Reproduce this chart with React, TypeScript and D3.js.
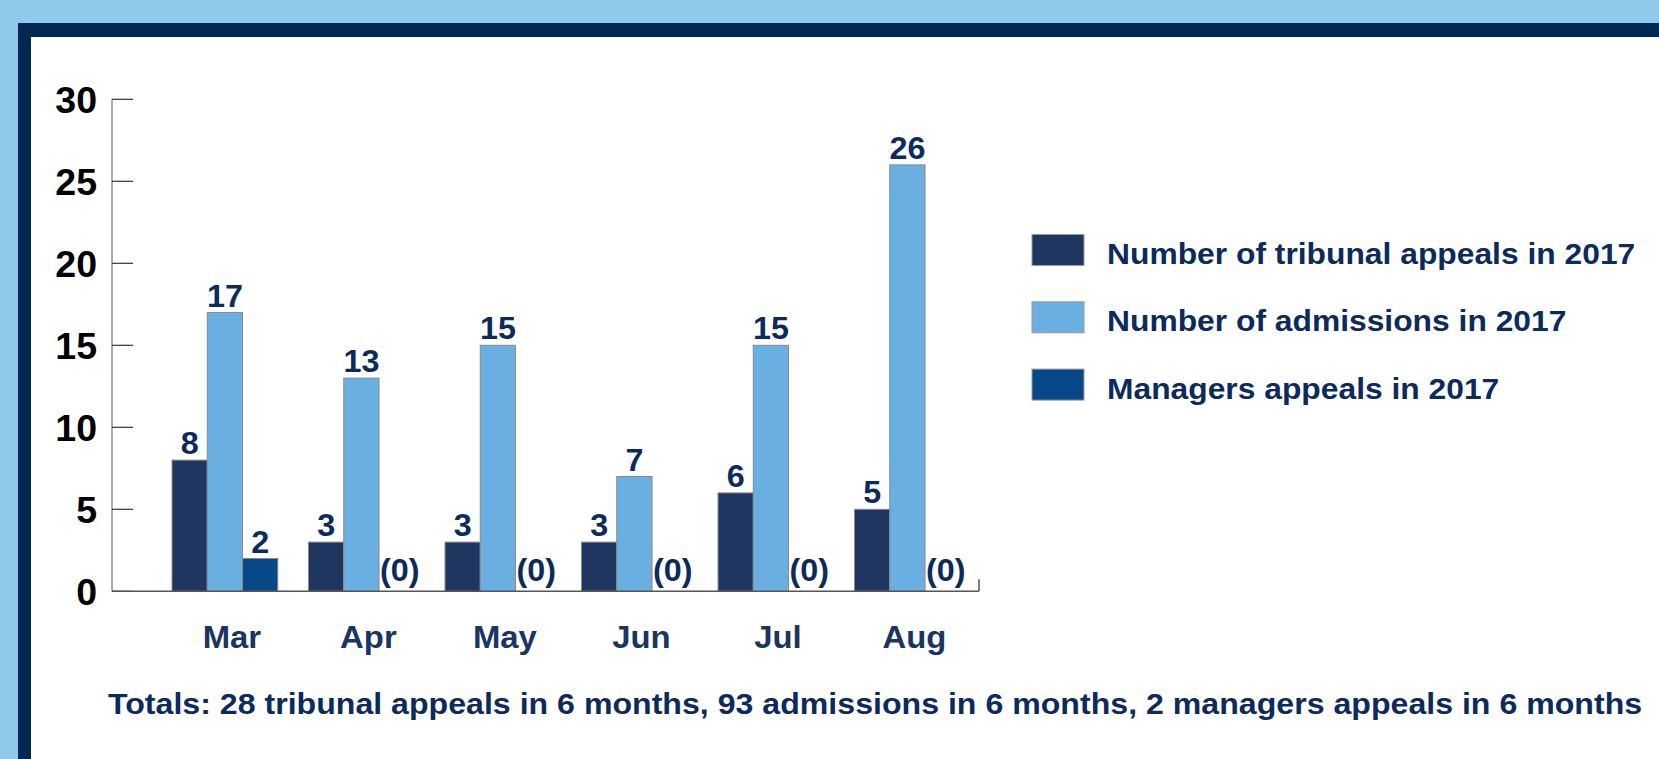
import React from "react";
import * as d3 from "d3";

const months = ["Mar", "Apr", "May", "Jun", "Jul", "Aug"];
const tribunalAppeals = [8, 3, 3, 3, 6, 5];
const admissions = [17, 13, 15, 7, 15, 26];
const managersAppeals = [2, 0, 0, 0, 0, 0];
const seriesNames = [
  "Number of tribunal appeals in 2017",
  "Number of admissions in 2017",
  "Managers appeals in 2017",
];
const seriesColors = ["#1f3760", "#6aafe1", "#074889"];
const yTicks = [0, 5, 10, 15, 20, 25, 30];
const totalsText =
  "Totals: 28 tribunal appeals in 6 months, 93 admissions in 6 months, 2 managers appeals in 6 months";

const W = 1659;
const H = 759;
const FONT = "'Liberation Sans', Arial, Helvetica, sans-serif";
const NAVY = "#0c2b5a";
const SX = 1.06;

function SText({ x, y, size, fill, anchor = "start", children }: any) {
  return (
    <text
      transform={`translate(${x},${y}) scale(${SX},1)`}
      fontFamily={FONT}
      fontWeight="bold"
      fontSize={size}
      fill={fill}
      textAnchor={anchor}
    >
      {children}
    </text>
  );
}

export default function App() {
  const y = d3.scaleLinear().domain([0, 30]).range([591.3, 99.3]);
  const x0 = d3
    .scaleBand<string>()
    .domain(months)
    .range([172, 960.3])
    .paddingInner(0.225)
    .paddingOuter(0);
  const keys = ["t", "a", "m"];
  const x1 = d3.scaleBand<string>().domain(keys).range([0, x0.bandwidth()]).padding(0);
  const data = months.map((m, i) => ({
    m,
    vals: [tribunalAppeals[i], admissions[i], managersAppeals[i]],
  }));
  const axisLeft = 112;
  const axisRight = 979;
  const y0 = y(0);

  return (
    <svg
      width={W}
      height={H}
      style={{ position: "absolute", left: 0, top: 0, display: "block" }}
    >
      {/* frame */}
      <rect x={0} y={0} width={W} height={H} fill="#91c9eb" />
      <rect x={18} y={23} width={W - 18} height={H - 23} fill="#002855" />
      <rect x={31} y={37} width={W - 31} height={H - 37} fill="#ffffff" />

      {/* y axis */}
      <line x1={axisLeft} x2={axisLeft} y1={y(30)} y2={y0} stroke="#8c8c8c" strokeWidth={1.5} />
      {yTicks.map((t) => (
        <g key={t}>
          <line x1={axisLeft} x2={axisLeft + 21} y1={y(t)} y2={y(t)} stroke="#333" strokeWidth={1.2} />
          <text
            x={97}
            y={y(t)}
            dy="0.36em"
            textAnchor="end"
            fontFamily={FONT}
            fontWeight="bold"
            fontSize={37.5}
            fill="#000"
          >
            {t}
          </text>
        </g>
      ))}

      {/* bars */}
      {data.map((d) => (
        <g key={d.m} transform={`translate(${x0(d.m)},0)`}>
          {d.vals.map((v, j) => {
            const bx = x1(keys[j]) as number;
            const bw = x1.bandwidth();
            const top = y(v);
            return (
              <g key={j}>
                {v > 0 && (
                  <rect
                    x={bx}
                    y={top}
                    width={bw}
                    height={y0 - top}
                    fill={seriesColors[j]}
                    stroke="#8a8a8a"
                    strokeWidth={1}
                  />
                )}
                <SText
                  x={bx + bw / 2 + (v > 0 ? 0 : 3)}
                  y={v > 0 ? top - 6 : y0 - 10}
                  size={30.5}
                  fill={NAVY}
                  anchor="middle"
                >
                  {v > 0 ? String(v) : "(0)"}
                </SText>
              </g>
            );
          })}
        </g>
      ))}

      {/* x axis */}
      <line x1={axisLeft} x2={axisRight} y1={y0} y2={y0} stroke="#555" strokeWidth={1.5} />
      <line x1={axisRight} x2={axisRight} y1={y0 - 12} y2={y0} stroke="#555" strokeWidth={1.5} />
      {months.map((m) => (
        <SText
          key={m}
          x={(x0(m) as number) + x0.bandwidth() / 2 + 7}
          y={648}
          size={31}
          fill="#1c3461"
          anchor="middle"
        >
          {m}
        </SText>
      ))}

      {/* legend */}
      {seriesNames.map((name, i) => (
        <g key={name}>
          <rect
            x={1032}
            y={234.5 + i * 67.3}
            width={52}
            height={31}
            fill={seriesColors[i]}
            stroke="#9a9a9a"
            strokeWidth={1}
          />
          <SText x={1107} y={264 + i * 67.3} size={30} fill={NAVY}>
            {name}
          </SText>
        </g>
      ))}

      {/* totals */}
      <SText x={108} y={714} size={30.3} fill={NAVY}>
        {totalsText}
      </SText>
    </svg>
  );
}
